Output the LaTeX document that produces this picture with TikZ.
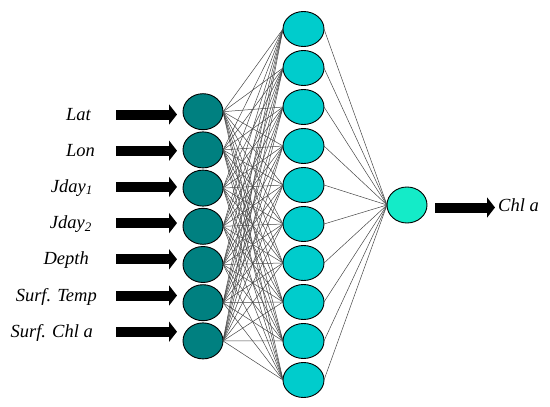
\documentclass[tikz,border=0pt]{standalone}
\usepackage{fontspec}
\setmainfont{Liberation Serif}
\usetikzlibrary{arrows.meta,shapes.geometric}
\definecolor{inteal}{RGB}{0,128,128}
\definecolor{hidcyan}{RGB}{0,204,204}
\definecolor{outaqua}{RGB}{20,235,200}
\definecolor{wire}{RGB}{70,70,70}
\begin{document}
\begin{tikzpicture}[x=1pt,y=-1pt,
  neuron/.style={draw=black, line width=0.9pt, ellipse, inner sep=0pt, outer sep=0pt},
  inneuron/.style={neuron, fill=inteal, minimum width=40pt, minimum height=36pt},
  hidneuron/.style={neuron, fill=hidcyan, minimum width=41pt, minimum height=35pt},
  outneuron/.style={neuron, fill=outaqua, minimum width=40pt, minimum height=36pt},
  lbl/.style={font=\itshape\fontsize{18.5}{20}\selectfont, anchor=base east, inner sep=0pt},
  olbl/.style={font=\itshape\fontsize{18.5}{20}\selectfont, anchor=base west, inner sep=0pt},
  bigarrow/.style={line width=10pt, -{Triangle[length=8pt,width=20pt]}},
  wireline/.style={draw=wire, line width=0.5pt}
]
\useasboundingbox (0,0) rectangle (550,407);
% input layer
\foreach \i in {1,...,7}{
  \node[inneuron] (in\i) at (203, {111.7+38.2*(\i-1)}) {};
}
% hidden layer
\foreach \j in {1,...,10}{
  \node[hidneuron] (h\j) at (303.5, {29+39*(\j-1)}) {};
}
% output
\node[outneuron] (out) at (407,205) {};
% wires
\foreach \i in {1,...,7}{
  \foreach \j in {1,...,10}{
    \draw[wireline] (in\i.east) -- (h\j.west);
  }
}
\foreach \j in {1,...,10}{
  \draw[wireline] (h\j.east) -- (out.west);
}
% input labels
\node[lbl] (l1) at (91,120) {Lat};
\node[lbl] (l2) at (95,156.2) {Lon};
\node[lbl] (l3) at (93,192.4) {Jday\textsubscript{1}};
\node[lbl] (l4) at (92,228.6) {Jday\textsubscript{2}};
\node[lbl] (l5) at (89,264.8) {Depth};
\node[lbl] (l6) at (97,301) {Surf. Temp};
\node[lbl] (l7) at (93,337.2) {Surf. Chl a};
% input arrows
\foreach \i in {1,...,7}{
  \coordinate (as\i) at (116, {114.5+36.2*(\i-1)});
  \coordinate (ae\i) at (177, {114.5+36.2*(\i-1)});
  \draw[bigarrow] (as\i) -- (ae\i);
}
% output arrow and label
\coordinate (os) at (435,207.5);
\coordinate (oe) at (495,207.5);
\draw[bigarrow] (os) -- (oe);
\node[olbl] (ol) at (498,211.7) {Chl a};
\end{tikzpicture}
\end{document}
